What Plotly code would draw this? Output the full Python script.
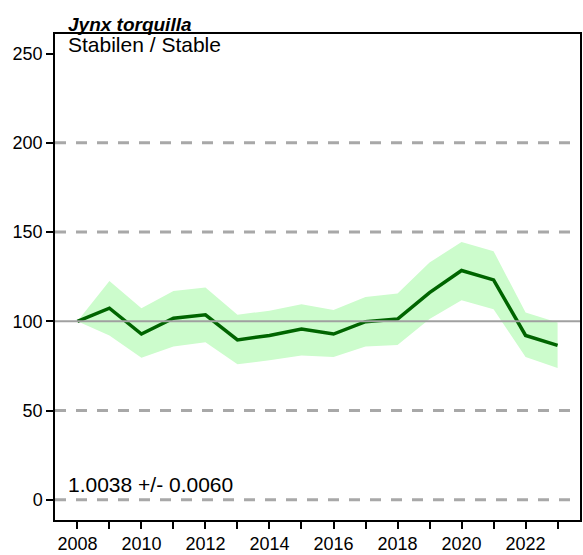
import plotly.graph_objects as go

years = list(range(2008, 2024))
index_mean = [100, 107.4, 92.9, 101.8, 103.7, 89.6, 92.1, 95.7, 92.9, 99.8, 101.3, 116.1, 128.5, 123.2, 92.1, 86.5]
upper_ci = [100, 122.6, 107.4, 117.0, 118.9, 103.7, 106.0, 109.6, 106.3, 113.7, 115.6, 133.0, 144.4, 139.3, 105.0, 99.4]
lower_ci = [100, 92.1, 79.6, 85.9, 88.3, 75.9, 78.2, 80.9, 80.0, 85.9, 86.8, 101.3, 111.8, 106.8, 80.0, 73.9]
y_ticks = [0, 50, 100, 150, 200, 250]
dashed_levels = [0, 50, 150, 200]
baseline_level = 100
x_tick_labels = [str(y) if y % 2 == 0 else "" for y in years]

title_text = "<b><i>Jynx torquilla</i></b>"
status_text = "Stabilen / Stable"
trend_text = "1.0038 +/- 0.0060"

FONT = "Liberation Sans, Arial, sans-serif"

fig = go.Figure()
fig.add_trace(go.Scatter(x=years, y=upper_ci, mode="lines", line=dict(width=0),
                         hoverinfo="skip", showlegend=False))
fig.add_trace(go.Scatter(x=years, y=lower_ci, mode="lines", line=dict(width=0),
                         fill="tonexty", fillcolor="rgb(204,252,204)",
                         hoverinfo="skip", showlegend=False))

shapes = []
for lv in dashed_levels:
    shapes.append(dict(type="line", xref="paper", x0=0, x1=1, yref="y", y0=lv, y1=lv,
                       line=dict(color="#a8a8a8", width=3, dash="11px,10px"), layer="above"))
shapes.append(dict(type="line", xref="paper", x0=0, x1=1, yref="y", y0=baseline_level, y1=baseline_level,
                   line=dict(color="#a0a0a0", width=2), layer="above"))
fig.update_layout(shapes=shapes)

fig.add_trace(go.Scatter(x=years, y=index_mean, mode="lines",
                         line=dict(color="#006400", width=3.5), showlegend=False))

fig.update_layout(
    width=583, height=555,
    margin=dict(l=55, r=1, t=34, b=31),
    plot_bgcolor="white", paper_bgcolor="white",
    font=dict(family=FONT, size=19, color="black"),
    xaxis=dict(range=[2007.3, 2023.7], tickmode="array", tickvals=years, ticktext=x_tick_labels,
               ticks="outside", ticklen=7, tickwidth=2, tickcolor="black",
               showline=True, linecolor="black", linewidth=1.5, mirror=True,
               showgrid=False, zeroline=False, tickfont=dict(size=18)),
    yaxis=dict(range=[-11.3, 261], tickmode="array", tickvals=y_ticks,
               ticks="outside", ticklen=7, tickwidth=2, tickcolor="black",
               showline=True, linecolor="black", linewidth=1.5, mirror=True,
               showgrid=False, zeroline=False, tickfont=dict(size=18)),
    annotations=[
        dict(text=title_text, xref="paper", yref="paper", x=0.02, y=1, xanchor="left", yanchor="bottom",
             showarrow=False, font=dict(size=19, family=FONT), yshift=-3),
        dict(text=status_text, xref="paper", yref="paper", x=0.02, y=1, xanchor="left", yanchor="top",
             showarrow=False, font=dict(size=21, family=FONT), yshift=3),
        dict(text=trend_text, xref="paper", yref="y", x=0.02, y=0, xanchor="left", yanchor="bottom",
             showarrow=False, font=dict(size=21, family=FONT), yshift=2),
    ],
)

fig.write_html("out.html", config={"displayModeBar": False},
               post_script="document.body.style.margin='0';document.body.style.overflow='hidden';")
